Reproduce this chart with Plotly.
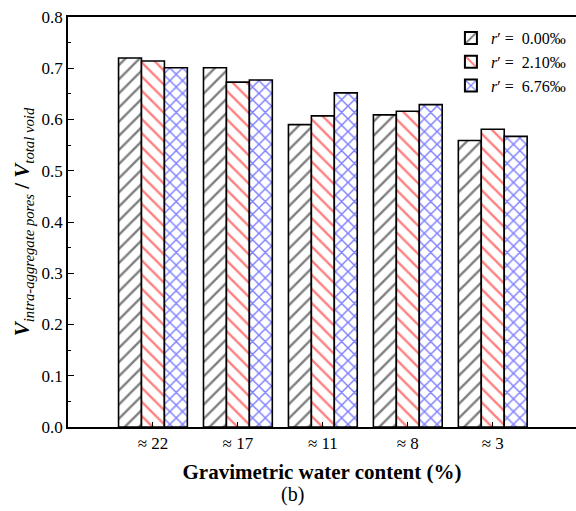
import plotly.graph_objects as go

categories = ["≈ 22", "≈ 17", "≈ 11", "≈ 8", "≈ 3"]
series_names = ["<i>r</i>′ =  0.00‰", "<i>r</i>′ =  2.10‰", "<i>r</i>′ =  6.76‰"]
r000 = [0.720, 0.701, 0.590, 0.609, 0.559]
r210 = [0.714, 0.673, 0.607, 0.616, 0.581]
r676 = [0.701, 0.677, 0.652, 0.629, 0.567]
y_ticks = [0.0, 0.1, 0.2, 0.3, 0.4, 0.5, 0.6, 0.7, 0.8]

xpos = list(range(1, len(categories) + 1))
styles = [("/", "black", 10, 0.24), ("\\", "red", 10, 0.24), ("x", "blue", 9, 0.3)]
serif = "Liberation Serif, Times New Roman, serif"

fig = go.Figure()
for name, vals, (shape, col, sz, sol) in zip(series_names, [r000, r210, r676], styles):
    fig.add_trace(go.Bar(
        x=xpos, y=vals, name=name,
        marker=dict(color="white",
                    line=dict(color="black", width=1.6),
                    pattern=dict(shape=shape, fgcolor=col, bgcolor="white",
                                 size=sz, solidity=sol, fillmode="overlay")),
    ))

fig.update_layout(
    width=576, height=511,
    margin=dict(l=68, r=0, t=17, b=84, autoexpand=False),
    paper_bgcolor="white", plot_bgcolor="white",
    barmode="group", bargap=0.19, bargroupgap=0,
    font=dict(family=serif, color="black", size=16),
    showlegend=True,
    legend=dict(x=0.99, y=0.99, xanchor="right", yanchor="top",
                bgcolor="rgba(0,0,0,0)", font=dict(size=16, family=serif),
                tracegroupgap=0, itemsizing="constant"),
    xaxis=dict(range=[0, 5.98], tickvals=xpos, ticktext=categories,
               automargin=False,
               showline=True, linecolor="black", linewidth=1.5, mirror=True,
               ticks="inside", ticklen=5, tickcolor="black", tickwidth=1,
               showgrid=False, zeroline=False,
               tickfont=dict(size=17, family=serif),
               title=dict(text="<b>Gravimetric water content (%)</b>",
                          font=dict(size=21, family=serif), standoff=12)),
    yaxis=dict(range=[0, 0.8], tickvals=y_ticks, tickformat=".1f",
               automargin=False,
               showline=True, linecolor="black", linewidth=1.5, mirror=False,
               ticks="inside", ticklen=6, tickcolor="black", tickwidth=1,
               minor=dict(dtick=0.05, ticks="inside", ticklen=3, tickcolor="black"),
               showgrid=False, zeroline=False,
               tickfont=dict(size=17, family=serif),
               title=dict(text="<b><i>V</i></b><sub><i>intra-aggregate pores</i></sub><b> / <i>V</i></b><sub><i>total void</i></sub>",
                          font=dict(size=21, family=serif), standoff=6)),
)

fig.add_annotation(text="(b)", x=0.441, y=-0.132, xref="paper", yref="paper",
                   xanchor="center", yanchor="top", showarrow=False,
                   font=dict(size=20, family=serif))

fig.write_html("out.html", config={"displayModeBar": False},
               post_script="document.body.style.margin='0';document.body.style.overflow='hidden';")
